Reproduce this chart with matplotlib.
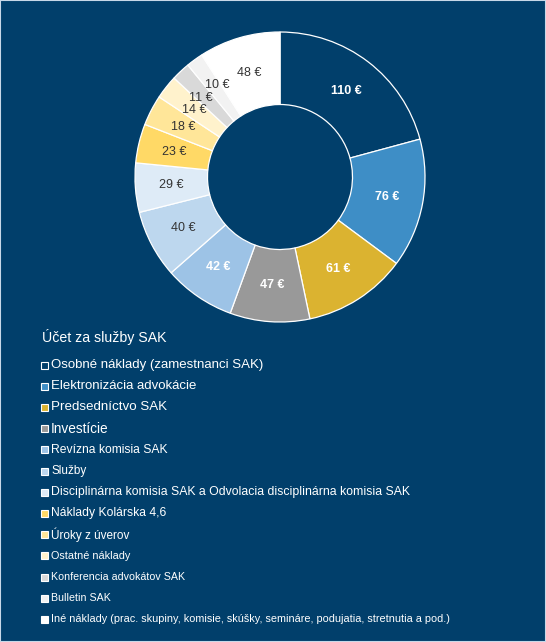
import matplotlib.pyplot as plt
from matplotlib.patches import Rectangle

plt.rcParams["font.family"] = ["Liberation Sans", "DejaVu Sans"]

categories = [
    "Osobné náklady (zamestnanci SAK)",
    "Elektronizácia advokácie",
    "Predsedníctvo SAK",
    "Investície",
    "Revízna komisia SAK",
    "Služby",
    "Disciplinárna komisia SAK a Odvolacia disciplinárna komisia SAK",
    "Náklady Kolárska 4,6",
    "Úroky z úverov",
    "Ostatné náklady",
    "Konferencia advokátov SAK",
    "Bulletin SAK",
    "Iné náklady (prac. skupiny, komisie, skúšky, semináre, podujatia, stretnutia a pod.)",
]
values = [110, 76, 61, 47, 42, 40, 29, 23, 18, 14, 11, 10, 48]
title = "Účet za služby SAK"

BG = "#013f6b"
colors = ["#013f6b", "#3e8ec6", "#dbb330", "#999999", "#9dc3e6", "#bdd7ee",
          "#deebf7", "#ffd966", "#ffe699", "#fff2cc", "#d9d9d9", "#f2f2f2", "#ffffff"]
label_colors = ["white"] * 5 + ["#333333"] * 8
label_weights = ["bold"] * 5 + ["normal"] * 8
legend_sizes = [9.5, 9.5, 9.6, 9.8, 8.7, 8.5, 8.8, 8.7, 8.5, 7.8, 7.7, 7.7, 7.85]

W, H = 546, 642
fig = plt.figure(figsize=(W / 100, H / 100), dpi=100)
fig.patch.set_facecolor(BG)
fig.patches.append(Rectangle((0, 0), 1, 1, transform=fig.transFigure,
                             fill=False, edgecolor="#c8d8e8", linewidth=1.5))

# donut: center (280, 177), outer radius 145 px
cx, cy, R = 280, 177, 145
ax = fig.add_axes([(cx - R) / W, 1 - (cy + R) / H, 2 * R / W, 2 * R / H])
ax.set_facecolor(BG)
wedges, texts = ax.pie(
    values, colors=colors, startangle=90, counterclock=False,
    radius=1.0, labels=[f"{v} €" for v in values], labeldistance=0.75,
    wedgeprops=dict(width=0.5, edgecolor="white", linewidth=0.9),
)
for t, c, w in zip(texts, label_colors, label_weights):
    t.set_color(c)
    t.set_fontweight(w)
    t.set_fontsize(9)
    t.set_ha("center")
    t.set_va("center")
# the two thinnest slices: nudge labels apart a little like the original
x, y = texts[11].get_position()
texts[11].set_position((x + 0.01, y + 0.03))
x, y = texts[10].get_position()
texts[10].set_position((x - 0.03, y))
ax.set_xlim(-1, 1)
ax.set_ylim(-1, 1)
ax.set_aspect("equal")
ax.axis("off")

# legend
fig.text(42 / W, 1 - 337 / H, title, color="white", fontsize=10.2,
         va="center", ha="left")
y0, dy = 365, 21.2
for i, (name, col) in enumerate(zip(categories, colors)):
    y = y0 + i * dy
    fig.patches.append(Rectangle((41 / W, 1 - (y + 3.5) / H), 6.5 / W, 7 / H,
                                 transform=fig.transFigure, facecolor=col,
                                 edgecolor="white", linewidth=0.8))
    fig.text(51 / W, 1 - y / H, name, color="white", fontsize=legend_sizes[i],
             va="center", ha="left")

fig.savefig("out.png", dpi=100, facecolor=BG)
